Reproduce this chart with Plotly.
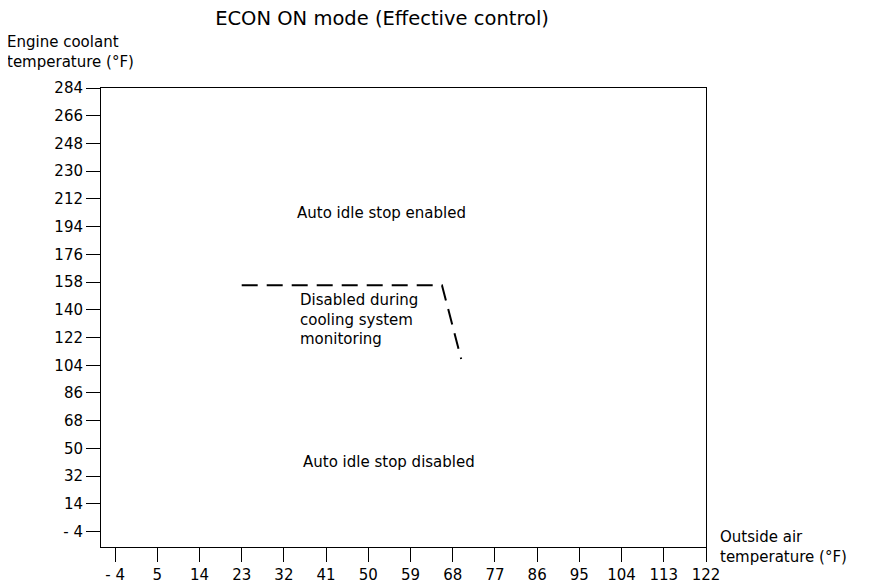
import plotly.graph_objects as go

# --- Data ---
x_ticks = [-4, 5, 14, 23, 32, 41, 50, 59, 68, 77, 86, 95, 104, 113, 122]
x_ticktext = ["- 4"] + [str(v) for v in x_ticks[1:]]
y_ticks = [-4, 14, 32, 50, 68, 86, 104, 122, 140, 158, 176, 194, 212, 230, 248, 266, 284]
y_ticktext = ["- 4"] + [str(v) for v in y_ticks[1:]]

# boundary of the "disabled during cooling system monitoring" zone
boundary_x = [23, 65.7, 69.8]
boundary_y = [156, 156, 108]

FONT = "DejaVu Sans, Liberation Sans, Arial, sans-serif"

fig = go.Figure()

fig.add_trace(go.Scatter(
    x=boundary_x, y=boundary_y,
    mode="lines",
    line=dict(color="black", width=2, dash="16px,9px"),
    hoverinfo="skip",
    showlegend=False,
))

# region labels
fig.add_annotation(x=52.8, y=203, text="Auto idle stop enabled",
                   showarrow=False, xanchor="center", yanchor="middle")
fig.add_annotation(x=35.1, y=133.5,
                   text="Disabled during<br>cooling system<br>monitoring",
                   showarrow=False, xanchor="left", yanchor="middle", align="left")
fig.add_annotation(x=54.5, y=41.5, text="Auto idle stop disabled",
                   showarrow=False, xanchor="center", yanchor="middle")

# axis titles placed like the original drawing
fig.add_annotation(xref="paper", yref="paper", x=-0.158, y=1.079,
                   text="Engine coolant<br>temperature (°F)",
                   showarrow=False, xanchor="left", yanchor="middle", align="left")
fig.add_annotation(xref="paper", yref="paper", x=1.02, y=0.0,
                   text="Outside air<br>temperature (°F)",
                   showarrow=False, xanchor="left", yanchor="middle", align="left")

axis_common = dict(
    showgrid=False, zeroline=False, automargin=False,
    showline=True, linecolor="black", linewidth=1, mirror=True,
    ticks="outside", ticklen=14, tickcolor="black", tickwidth=1,
    tickfont=dict(size=15, color="black"),
)

fig.update_xaxes(range=[-7, 122], tickvals=x_ticks, ticktext=x_ticktext, **axis_common)
fig.update_yaxes(range=[-14, 284], tickvals=y_ticks, ticktext=y_ticktext, **axis_common)

# page body adds an 8px margin, so the figure is 8px smaller on each side
fig.update_layout(
    width=872, height=578,
    margin=dict(l=93, r=174, t=80, b=39),
    plot_bgcolor="white", paper_bgcolor="white",
    font=dict(family=FONT, size=15, color="black"),
    title=dict(text="ECON ON mode (Effective control)", x=0.429, xanchor="center",
               y=0.983, yanchor="middle", font=dict(size=19.5, color="black")),
    showlegend=False,
)

fig.write_html("out.html")
